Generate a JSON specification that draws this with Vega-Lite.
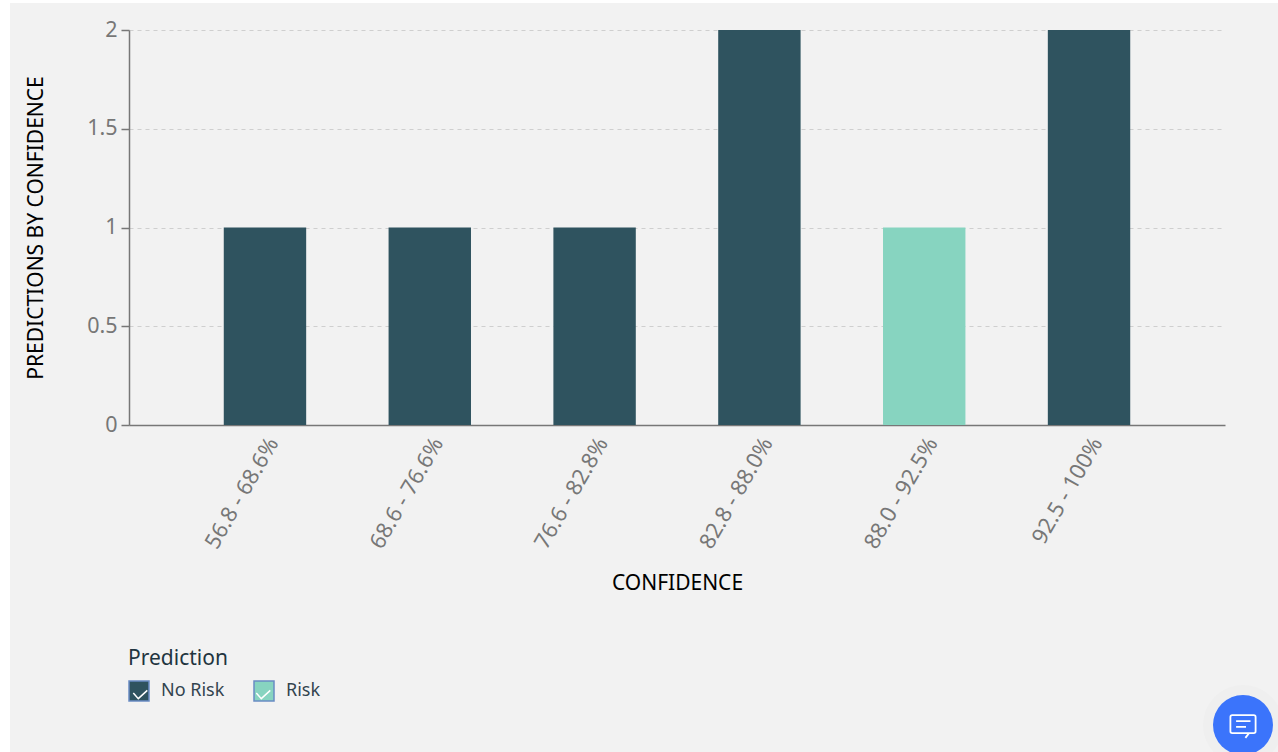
{
  "$schema": "https://vega.github.io/schema/vega-lite/v6.json",
  "width": 1096,
  "height": 395,
  "autosize": {"type": "none"},
  "padding": {"left": 129, "top": 30, "right": 53, "bottom": 327},
  "background": "#f2f2f2",
  "config": {
    "font": "Noto Sans",
    "view": {"stroke": null},
    "axis": {"labelFont": "Noto Sans", "titleFont": "Noto Sans"}
  },
  "datasets": {
    "predictions": [
      {"confidence": "56.8 - 68.6%", "prediction": "No Risk", "count": 1},
      {"confidence": "68.6 - 76.6%", "prediction": "No Risk", "count": 1},
      {"confidence": "76.6 - 82.8%", "prediction": "No Risk", "count": 1},
      {"confidence": "82.8 - 88.0%", "prediction": "No Risk", "count": 2},
      {"confidence": "88.0 - 92.5%", "prediction": "Risk", "count": 1},
      {"confidence": "92.5 - 100%", "prediction": "No Risk", "count": 2}
    ],
    "furniture": [{"part": "page"}]
  },
  "resolve": {"scale": {"x": "independent", "y": "independent"}},
  "layer": [
    {
      "description": "White page margin to the left of the panel",
      "data": {"name": "furniture"},
      "mark": {"type": "rect", "fill": "#ffffff"},
      "encoding": {
        "x": {"datum": 0, "type": "quantitative", "axis": null, "scale": {"domain": [0, 1278], "range": [-129, 1149]}},
        "x2": {"datum": 10},
        "y": {"datum": 0, "type": "quantitative", "axis": null, "scale": {"domain": [0, 752], "range": [-30, 722]}},
        "y2": {"datum": 752}
      }
    },
    {
      "description": "White page margin above the panel",
      "data": {"name": "furniture"},
      "mark": {"type": "rect", "fill": "#ffffff"},
      "encoding": {
        "x": {"datum": 0, "type": "quantitative", "axis": null, "scale": {"domain": [0, 1278], "range": [-129, 1149]}},
        "x2": {"datum": 1278},
        "y": {"datum": 0, "type": "quantitative", "axis": null, "scale": {"domain": [0, 752], "range": [-30, 722]}},
        "y2": {"datum": 3}
      }
    },
    {
      "description": "Prediction counts per confidence band",
      "data": {"name": "predictions"},
      "mark": {"type": "bar"},
      "encoding": {
        "x": {
          "field": "confidence",
          "type": "nominal",
          "sort": null,
          "scale": {"paddingInner": 0.5, "paddingOuter": 0.575},
          "axis": {
            "title": "CONFIDENCE",
            "titleFontSize": 21,
            "titleFontWeight": "normal",
            "titleColor": "#000000",
            "titlePadding": 21,
            "labelAngle": -60,
            "labelAlign": "right",
            "labelBaseline": "middle",
            "labelFontSize": 22,
            "labelColor": "#777777",
            "labelOffset": 8,
            "labelPadding": 14,
            "ticks": false,
            "grid": false,
            "domainColor": "#777777",
            "domainWidth": 1.5
          }
        },
        "y": {
          "field": "count",
          "type": "quantitative",
          "scale": {"domain": [0, 2], "nice": false},
          "axis": {
            "title": "PREDICTIONS BY CONFIDENCE",
            "titleFontSize": 21,
            "titleFontWeight": "normal",
            "titleColor": "#000000",
            "titlePadding": 40,
            "values": [0, 0.5, 1, 1.5, 2],
            "format": "~g",
            "labelFontSize": 21.5,
            "labelColor": "#777777",
            "labelPadding": 4,
            "tickColor": "#777777",
            "tickSize": 8,
            "tickWidth": 1.5,
            "domainColor": "#777777",
            "domainWidth": 1.5,
            "grid": true,
            "gridColor": "#cfcfcf",
            "gridDash": [4, 4],
            "gridWidth": 1
          }
        },
        "color": {
          "field": "prediction",
          "type": "nominal",
          "scale": {"domain": ["No Risk", "Risk"], "range": ["#2f535f", "#87d4c0"]},
          "legend": {
            "title": "Prediction",
            "orient": "none",
            "legendX": -1,
            "legendY": 618,
            "direction": "horizontal",
            "columns": 2,
            "columnPadding": 26,
            "symbolType": "square",
            "symbolSize": 400,
            "symbolStrokeColor": "#6a8cc4",
            "symbolStrokeWidth": 1.5,
            "symbolOpacity": 1,
            "labelFontSize": 18,
            "labelColor": "#33444f",
            "labelOffset": 11,
            "titleFontSize": 21,
            "titleFontWeight": "normal",
            "titleColor": "#1f3540",
            "titlePadding": 11
          }
        }
      }
    },
    {
      "description": "Check marks drawn over the legend swatches; the layer itself draws no points",
      "data": {"name": "predictions"},
      "transform": [{"filter": "false"}],
      "mark": {"type": "point", "filled": false},
      "encoding": {
        "shape": {
          "field": "prediction",
          "type": "nominal",
          "scale": {
            "domain": ["No Risk ", "Risk "],
            "range": ["M-0.57 0.17 L-0.07 0.73 L0.83 -0.1", "M-0.57 0.17 L-0.07 0.73 L0.83 -0.1"]
          },
          "legend": {
            "title": "Prediction",
            "orient": "none",
            "legendX": -1,
            "legendY": 618,
            "direction": "horizontal",
            "columns": 2,
            "columnPadding": 26,
            "symbolSize": 400,
            "symbolFillColor": "transparent",
            "symbolStrokeColor": "#ffffff",
            "symbolStrokeWidth": 1.5,
            "symbolOpacity": 1,
            "labelFontSize": 18,
            "labelColor": "transparent",
            "labelOffset": 11,
            "labelExpr": "trim(datum.label)",
            "titleFontSize": 21,
            "titleFontWeight": "normal",
            "titleColor": "transparent",
            "titlePadding": 11
          }
        }
      }
    },
    {
      "description": "Soft halo round the chat button",
      "data": {"name": "furniture"},
      "mark": {"type": "point", "shape": "circle", "filled": true, "fill": "#efefef", "opacity": 1, "size": 6400},
      "encoding": {
        "x": {"datum": 1243, "type": "quantitative", "axis": null, "scale": {"domain": [0, 1278], "range": [-129, 1149]}},
        "y": {"datum": 725, "type": "quantitative", "axis": null, "scale": {"domain": [0, 752], "range": [-30, 722]}}
      }
    },
    {
      "description": "Chat button",
      "data": {"name": "furniture"},
      "mark": {"type": "point", "shape": "circle", "filled": true, "fill": "#3b74fb", "opacity": 1, "size": 3600},
      "encoding": {
        "x": {"datum": 1243, "type": "quantitative", "axis": null, "scale": {"domain": [0, 1278], "range": [-129, 1149]}},
        "y": {"datum": 725, "type": "quantitative", "axis": null, "scale": {"domain": [0, 752], "range": [-30, 722]}}
      }
    },
    {
      "description": "Speech-bubble icon on the chat button",
      "data": {"name": "furniture"},
      "mark": {
        "type": "point",
        "shape": "M-0.36 -0.33 H0.36 Q0.42 -0.33 0.42 -0.27 V0.21 Q0.42 0.27 0.36 0.27 H0.2 L0.08 0.43 M0.2 0.27 H-0.36 Q-0.42 0.27 -0.42 0.21 V-0.27 Q-0.42 -0.33 -0.36 -0.33 M-0.23 -0.13 H0.25 M-0.23 0.06 H0.1",
        "filled": false,
        "stroke": "#ffffff",
        "strokeWidth": 1.8,
        "opacity": 1,
        "size": 3600
      },
      "encoding": {
        "x": {"datum": 1243, "type": "quantitative", "axis": null, "scale": {"domain": [0, 1278], "range": [-129, 1149]}},
        "y": {"datum": 725, "type": "quantitative", "axis": null, "scale": {"domain": [0, 752], "range": [-30, 722]}}
      }
    }
  ]
}
